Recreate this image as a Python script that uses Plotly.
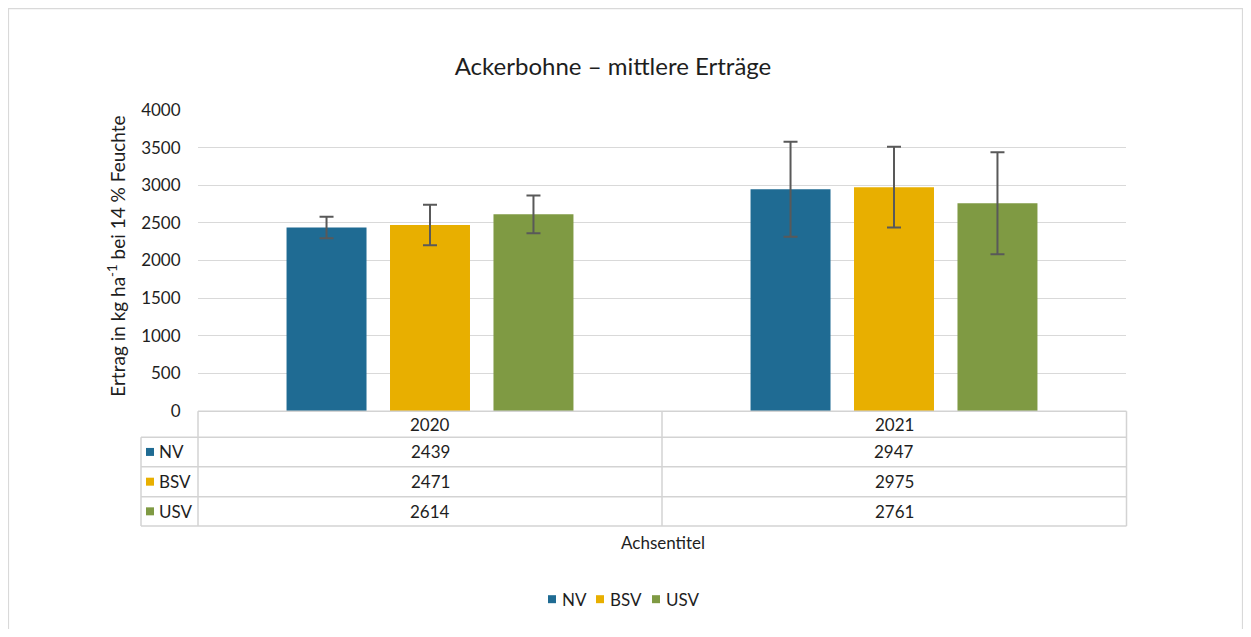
import plotly.graph_objects as go

years = ["2020", "2021"]
series = ["NV", "BSV", "USV"]
nv = [2439, 2947]
bsv = [2471, 2975]
usv = [2614, 2761]
nv_err = [142, 630]
bsv_err = [270, 538]
usv_err = [251, 679]
colors = ["#1F6B93", "#E8AF00", "#7F9A43"]

# page body has an 8px margin: reference pixel X -> figure pixel X-8
OFF = 8
W, H = 1235, 621
L, R, T, B = 198, 1126, 110, 411.5  # plot area in reference pixels


def px(x):
    return (x - L) / (R - L)


def py(y):
    return (B - y) / (B - T)


FONT = "Lato"
TXT = "#1e1e1e"

fig = go.Figure()
vals = [nv, bsv, usv]
errs = [nv_err, bsv_err, usv_err]
for name, v, e, c in zip(series, vals, errs, colors):
    fig.add_trace(go.Bar(
        x=years, y=v, name=name,
        marker=dict(color=c, line=dict(width=0)),
        error_y=dict(type="data", array=e, visible=True, color="#595959",
                     thickness=2, width=7),
    ))

shapes = []
line_col = "#D3D3D3"
# outer border
shapes.append(dict(type="rect", xref="paper", yref="paper",
                   x0=px(8.5), x1=px(1242.5), y0=py(650), y1=py(8.5),
                   line=dict(color="#D9D9D9", width=1.2), fillcolor="rgba(0,0,0,0)", layer="below"))
# table horizontal lines
row_y = [411.7, 437.7, 467.3, 497.3, 526.7]
for i, y in enumerate(row_y):
    x0 = 198 if i == 0 else 141
    shapes.append(dict(type="line", xref="paper", yref="paper",
                       x0=px(x0), x1=px(1126.5), y0=py(y), y1=py(y),
                       line=dict(color=line_col, width=1.5)))
# vertical lines
for x, y0 in [(141, 437.7), (198, 411.7), (662, 411.7), (1126.5, 411.7)]:
    shapes.append(dict(type="line", xref="paper", yref="paper",
                       x0=px(x), x1=px(x), y0=py(y0), y1=py(526.7),
                       line=dict(color=line_col, width=1.5)))

annotations = []
fs = 17
# header row
for i, yr in enumerate(years):
    annotations.append(dict(x=i, xref="x", y=py(424.7), yref="paper", text=yr,
                            xanchor="center", yanchor="middle",
                            showarrow=False, font=dict(family=FONT, size=fs, color=TXT)))
row_centers = [452.5, 482.3, 512.0]
for name, v, c, yc in zip(series, vals, colors, row_centers):
    shapes.append(dict(type="rect", xref="paper", yref="paper",
                       x0=px(146), x1=px(154), y0=py(yc + 4), y1=py(yc - 4),
                       line=dict(width=0), fillcolor=c))
    annotations.append(dict(x=px(157), xref="paper", xanchor="left", y=py(yc), yref="paper",
                            yanchor="middle", text=name, showarrow=False,
                            font=dict(family=FONT, size=fs, color=TXT)))
    for i, val in enumerate(v):
        annotations.append(dict(x=i, xref="x", y=py(yc), yref="paper", text=str(val),
                                xanchor="center", yanchor="middle",
                                showarrow=False, font=dict(family=FONT, size=fs, color=TXT)))

annotations.append(dict(x=px(663), xref="paper", y=py(543), yref="paper", text="Achsentitel",
                        xanchor="center", yanchor="middle",
                        showarrow=False, font=dict(family=FONT, size=fs, color=TXT)))
annotations.append(dict(x=px(117), xref="paper", y=py(257), yref="paper",
                        xanchor="center", yanchor="middle",
                        text="Ertrag in kg ha<sup>-1</sup> bei 14 % Feuchte", textangle=-90,
                        showarrow=False, font=dict(family=FONT, size=19, color=TXT)))

# legend at bottom (manual, matching compact Excel legend)
leg_items = [(548, 560), (596, 608), (652, 664)]
for (sx, tx), name, c in zip(leg_items, series, colors):
    shapes.append(dict(type="rect", xref="paper", yref="paper",
                       x0=px(sx), x1=px(sx + 8), y0=py(600 + 4), y1=py(600 - 4),
                       line=dict(width=0), fillcolor=c))
    annotations.append(dict(x=px(tx), xref="paper", xanchor="left", y=py(600), yref="paper",
                            yanchor="middle", text=name, showarrow=False,
                            font=dict(family=FONT, size=fs, color=TXT)))

fig.update_layout(
    width=W, height=H,
    margin=dict(l=L - OFF, r=W - (R - OFF), t=T - OFF, b=H - (B - OFF)),
    paper_bgcolor="white", plot_bgcolor="white",
    title=dict(text="Ackerbohne – mittlere Erträge", x=px(613), xref="paper", xanchor="center",
               y=1 - (67 - OFF) / H, yanchor="middle",
               font=dict(family=FONT, size=24, color=TXT)),
    barmode="group", bargap=0.331, bargroupgap=0.227,
    xaxis=dict(showticklabels=False, showgrid=False, zeroline=False, showline=False,
               range=[-0.5, 1.5]),
    yaxis=dict(range=[0, 4000], dtick=500, showgrid=True, gridcolor="#D9D9D9", gridwidth=1.2,
               zeroline=False, showline=False, ticks="outside", ticklen=13, tickcolor="white",
               tickfont=dict(family=FONT, size=fs, color=TXT)),
    shapes=shapes, annotations=annotations,
    showlegend=False,
)

fig.write_html("out.html")
